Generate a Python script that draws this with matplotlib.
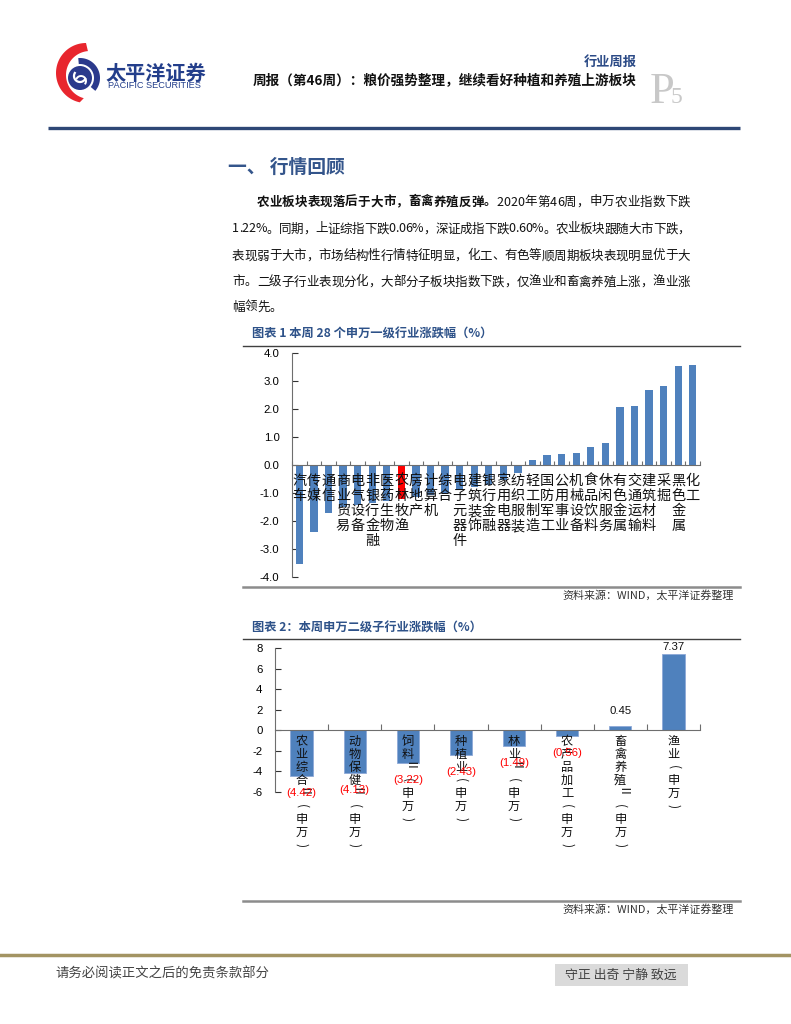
import matplotlib
matplotlib.use("Agg")
import matplotlib.pyplot as plt
import numpy as np
from matplotlib.patches import Polygon, Circle, Rectangle
from matplotlib.font_manager import FontProperties

CJK = ["Noto Sans CJK SC", "DejaVu Sans"]
LAT = ["Liberation Sans", "DejaVu Sans"]
plt.rcParams["font.family"] = CJK

# ---- data -------------------------------------------------------------
# chart 1: 28 Shenwan level-1 industries, weekly change (%)
ind1_names = ["汽车", "传媒", "通信", "商业贸易", "电气设备", "非银行金融", "医药生物",
              "农林牧渔", "房地产", "计算机", "综合", "电子元器件", "建筑装饰", "银行金融",
              "家用电器", "纺织服装", "轻工制造", "国防军工", "公用事业", "机械设备",
              "食品饮料", "休闲服务", "有色金属", "交通运输", "建筑材料", "采掘",
              "黑色金属", "化工"]
ind1_chg = [-3.55, -2.40, -1.72, -1.50, -1.42, -1.35, -1.28, -1.22, -1.15, -1.08,
            -1.00, -0.90, -0.80, -0.72, -0.55, -0.27, 0.18, 0.36, 0.39, 0.44,
            0.65, 0.78, 2.08, 2.12, 2.68, 2.82, 3.54, 3.57]
highlight = "农林牧渔"
y1_ticks = [-4.0, -3.0, -2.0, -1.0, 0.0, 1.0, 2.0, 3.0, 4.0]

# chart 2: agriculture level-2 sub-industries, weekly change (%)
sub_names = ["农业综合Ⅱ(申万)", "动物保健Ⅱ(申万)", "饲料Ⅱ(申万)", "种植业(申万)",
             "林业Ⅱ(申万)", "农产品加工(申万)", "畜禽养殖Ⅱ(申万)", "渔业(申万)"]
sub_chg = [-4.42, -4.13, -3.22, -2.43, -1.49, -0.56, 0.45, 7.37]
y2_ticks = [-6, -4, -2, 0, 2, 4, 6, 8]

para = [
    [("农业板块表现落后于大市，畜禽养殖反弹。", "bold"), ("2020年第46周，申万农业指数下跌", "normal")],
    [("1.22%。同期，上证综指下跌0.06%，深证成指下跌0.60%。农业板块跟随大市下跌，", "normal")],
    [("表现弱于大市，市场结构性行情特征明显，化工、有色等顺周期板块表现明显优于大", "normal")],
    [("市。二级子行业表现分化，大部分子板块指数下跌，仅渔业和畜禽养殖上涨，渔业涨", "normal")],
    [("幅领先。", "normal")],
]

BLUE = "#4F81BD"
W, H = 791, 1024

fig = plt.figure(figsize=(W / 100, H / 100), dpi=100)
page = fig.add_axes([0, 0, 1, 1])
page.set_xlim(0, W)
page.set_ylim(H, 0)
page.axis("off")
renderer = fig.canvas.get_renderer()


def px_axes(x0, y0, x1, y1):
    return fig.add_axes([x0 / W, 1 - y1 / H, (x1 - x0) / W, (y1 - y0) / H])


def put_line(segments, x0, y, size, x1=None):
    # lay characters one by one so the line can be justified like the pdf
    chars = [(c, w) for text, w in segments for c in text]
    fps = {w: FontProperties(family=CJK, size=size, weight=w) for _, w in segments}
    widths = [renderer.get_text_width_height_descent(c, fps[w], ismath=False)[0]
              for c, w in chars]
    gap = 0.0
    if x1 is not None:
        gap = (x1 - x0 - sum(widths)) / (len(chars) - 1)
    x = x0
    for (c, w), cw in zip(chars, widths):
        page.text(x, y, c, fontproperties=fps[w], ha="left", va="center", color="#111111")
        x += cw + gap


# ---- header -----------------------------------------------------------
th = np.radians(np.linspace(90, 258, 60))
outer = np.c_[86 + 30 * np.cos(th), 73 - 30 * np.sin(th)]
th2 = np.radians(np.linspace(255, 95, 60))
inner = np.c_[90 + 24 * np.cos(th2), 75 - 24 * np.sin(th2)]
page.add_patch(Polygon(np.vstack([outer, inner]), closed=True, color="#E8262E", lw=0))
th3 = np.radians(np.linspace(95, -40, 40))
arc_o = np.c_[80 + 20 * np.cos(th3), 78 - 20 * np.sin(th3)]
arc_i = np.c_[80 + 14 * np.cos(th3[::-1]), 78 - 14 * np.sin(th3[::-1])]
page.add_patch(Polygon(np.vstack([arc_o, arc_i]), closed=True, color="#2B3A8C", lw=0))
page.add_patch(Circle((80, 78), 12, color="#2B3A8C", lw=0))
t4 = np.radians(np.linspace(150, 330, 30))
page.plot(80 + 6 * np.cos(t4), 76 - 6 * np.sin(t4), color="white", lw=1.6)
t5 = np.radians(np.linspace(-30, 150, 30))
page.plot(81 + 5 * np.cos(t5), 81 - 5 * np.sin(t5), color="white", lw=1.4)

page.text(105, 73, "太平洋证券", fontsize=14.5, weight="bold", color="#233E8B",
          ha="left", va="center")
page.text(108, 86, "PACIFIC SECURITIES", fontsize=6.6, family=LAT, color="#233E8B",
          ha="left", va="center")
page.text(637, 62, "行业周报", fontsize=9.5, weight="bold", color="#2B4A86",
          ha="right", va="center")
page.text(637, 81, "周报（第46周）：粮价强势整理，继续看好种植和养殖上游板块", fontsize=9.8,
          weight="bold", color="#111111", ha="right", va="center")
page.text(650, 103, "P", fontsize=32, family=["Liberation Serif", "DejaVu Serif"],
          color="#C8C8C8", ha="left", va="baseline")
page.text(671, 103, "5", fontsize=17, family=["Liberation Serif", "DejaVu Serif"],
          color="#C8C8C8", ha="left", va="baseline")
page.plot([48, 740], [128, 128], color="#2E4776", lw=2.4, solid_capstyle="butt")

# ---- section text -----------------------------------------------------
page.text(228, 167, "一、 行情回顾", fontsize=13.5, weight="bold", color="#34558B",
          ha="left", va="center")
line_y = [202, 229, 256, 282, 307]
for k, seg in enumerate(para):
    x0 = 257 if k == 0 else 232
    x1 = 690 if k < len(para) - 1 else None
    put_line(seg, x0, line_y[k], 9.0, x1)

# ---- chart 1 ----------------------------------------------------------
page.text(252, 334, "图表 1 本周 28 个申万一级行业涨跌幅（%）", fontsize=8.8, weight="bold",
          color="#2E5289", ha="left", va="center")
page.plot([243, 740], [346, 346], color="#404040", lw=1.0)
page.plot([243, 740], [587, 587], color="#8C8C8C", lw=1.8)
page.text(734, 595, "资料来源：WIND，太平洋证券整理", fontsize=7.9, style="italic",
          color="#333333", ha="right", va="center")

ax1 = px_axes(292, 353, 700, 577)
n1 = len(ind1_names)
xs1 = np.arange(n1)
cols1 = ["#FF0000" if nm == highlight else BLUE for nm in ind1_names]
ax1.bar(xs1, ind1_chg, width=0.5, color=cols1, zorder=2)
ax1.set_xlim(-0.5, n1 - 0.5)
ax1.set_ylim(-4, 4)
ax1.set_facecolor("none")
for s in ["top", "right"]:
    ax1.spines[s].set_visible(False)
ax1.spines["bottom"].set_position(("data", 0))
ax1.spines["bottom"].set_color("#6E6E6E")
ax1.spines["left"].set_color("#6E6E6E")
ax1.set_xticks(np.arange(-0.5, n1, 1.0))
ax1.set_xticklabels([])
ax1.set_yticks(y1_ticks)
ax1.set_yticklabels([f"{v:.1f}" for v in y1_ticks], family=LAT, fontsize=8.2)
ax1.tick_params(axis="x", direction="in", length=3, color="#6E6E6E")
ax1.tick_params(axis="y", direction="in", length=4, pad=9, color="#333333")
for i, nm in enumerate(ind1_names):
    for j, ch in enumerate(nm):
        ax1.annotate(ch, xy=(i, 0), xytext=(0, -(16 + 15 * j)), textcoords="offset pixels",
                     ha="center", va="center", fontsize=10.2, color="#111111", zorder=3)

# ---- chart 2 ----------------------------------------------------------
page.text(252, 628, "图表 2：本周申万二级子行业涨跌幅（%）", fontsize=8.8, weight="bold",
          color="#2E5289", ha="left", va="center")
page.plot([243, 740], [639, 639], color="#404040", lw=1.0)
page.plot([243, 740], [901, 901], color="#8C8C8C", lw=1.8)
page.text(734, 909, "资料来源：WIND，太平洋证券整理", fontsize=7.9, style="italic",
          color="#333333", ha="right", va="center")

ax2 = px_axes(275, 648, 700, 792)
n2 = len(sub_names)
xs2 = np.arange(n2)
ax2.bar(xs2, sub_chg, width=0.42, color=BLUE, edgecolor="#8EA9D8", lw=0.6, zorder=2)
ax2.set_xlim(-0.5, n2 - 0.5)
ax2.set_ylim(-6, 8)
ax2.set_facecolor("none")
for s in ["top", "right"]:
    ax2.spines[s].set_visible(False)
ax2.spines["bottom"].set_position(("data", 0))
ax2.spines["bottom"].set_color("#6E6E6E")
ax2.spines["left"].set_color("#6E6E6E")
ax2.set_xticks(np.arange(0.5, n2, 1.0))
ax2.set_xticklabels([])
ax2.set_yticks(y2_ticks)
ax2.set_yticklabels([str(v) for v in y2_ticks], family=LAT, fontsize=8.2)
ax2.tick_params(axis="x", direction="in", length=4, color="#6E6E6E")
ax2.tick_params(axis="y", direction="in", length=4, pad=9, color="#333333")
for i, nm in enumerate(sub_names):
    for j, ch in enumerate(nm):
        rot = -90 if ch in "Ⅱ()" else 0
        ax2.annotate(ch, xy=(i, 0), xytext=(0, -(11 + 13 * j)), textcoords="offset pixels",
                     ha="center", va="center", fontsize=8.8, rotation=rot,
                     color="#111111", zorder=3)
# pixels per data unit on chart 2, used to keep the top value label inside the frame
ppu2 = 144 / (8 - (-6))
for i, v in enumerate(sub_chg):
    if v < 0:
        ax2.annotate(f"({abs(v):.2f})", xy=(i, v), xytext=(0, -17), textcoords="offset pixels",
                     ha="center", va="center", fontsize=8.2, family=LAT, color="#FF0000",
                     zorder=4)
    else:
        off = min(15, (8 - v) * ppu2 + 1)
        ax2.annotate(f"{v:.2f}", xy=(i, v), xytext=(0, off), textcoords="offset pixels",
                     ha="center", va="center", fontsize=8.2, family=LAT, color="#111111",
                     zorder=4, annotation_clip=False)

# ---- footer -----------------------------------------------------------
page.plot([0, W], [955, 955], color="#A39463", lw=2.5)
page.text(55, 974, "请务必阅读正文之后的免责条款部分", fontsize=9.6, color="#444444",
          ha="left", va="center")
page.add_patch(Rectangle((555, 964), 133, 22, color="#DADADA", lw=0))
page.text(621, 975, "守正 出奇 宁静 致远", fontsize=9.3, color="#444444",
          ha="center", va="center")

fig.savefig("out.png", dpi=100)
